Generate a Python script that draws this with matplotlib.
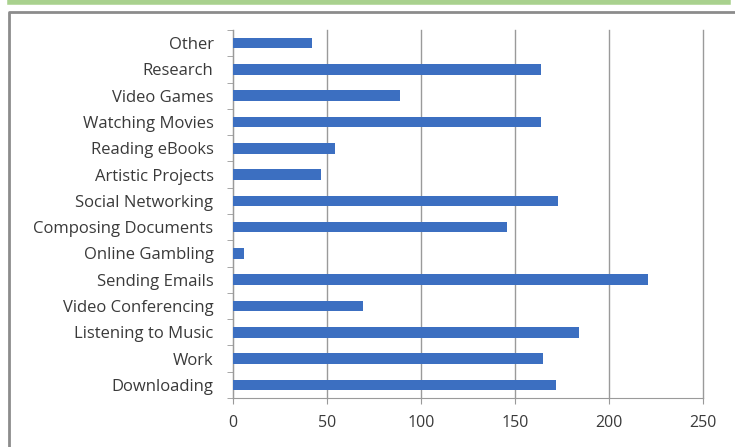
import matplotlib.pyplot as plt
from matplotlib.lines import Line2D
import numpy as np

categories = ["Downloading", "Work", "Listening to Music", "Video Conferencing",
              "Sending Emails", "Online Gambling", "Composing Documents",
              "Social Networking", "Artistic Projects", "Reading eBooks",
              "Watching Movies", "Video Games", "Research", "Other"]
values = [172, 165, 184, 69, 221, 6, 146, 173, 47, 54, 164, 89, 164, 42]
xticks = [0, 50, 100, 150, 200, 250]

plt.rcParams["font.family"] = ["Open Sans", "DejaVu Sans"]

fig = plt.figure(figsize=(7.35, 4.47), dpi=100)
fig.patch.set_facecolor("white")

# frame pieces around the chart (green strip on top, grey border)
fig.add_artist(Line2D([10 / 735, 728 / 735], [1 - 2 / 447, 1 - 2 / 447],
                      color="#a9d18e", lw=4, transform=fig.transFigure))
fig.add_artist(Line2D([9 / 735, 9 / 735, 1.0], [0, 1 - 12 / 447, 1 - 12 / 447],
                      color="#8c8c8c", lw=2, transform=fig.transFigure))

ax = fig.add_axes([233 / 735, 49 / 447, 470 / 735, 368 / 447])
y = np.arange(len(categories))
ax.barh(y, values, height=0.4, color="#3c6fc1", zorder=3)

ax.set_xlim(0, 250)
ax.set_ylim(-0.5, len(categories) - 0.5)
ax.set_xticks(xticks)
ax.set_xticklabels([str(t) for t in xticks], fontsize=11.5, color="#3a3a3a")
ax.set_yticks(y)
ax.set_yticklabels(categories, fontsize=12, color="#3a3a3a")
ax.set_yticks(np.arange(-0.5, len(categories), 1), minor=True)
ax.tick_params(axis="y", which="major", length=0, pad=14)
ax.tick_params(axis="y", which="minor", length=4, color="#999999", direction="out")
ax.tick_params(axis="x", length=4, color="#999999", pad=8)

ax.grid(axis="x", color="#9a9a9a", lw=1, zorder=0)
for gl in ax.get_xgridlines():
    gl.set_clip_on(False)
for side in ["top", "right"]:
    ax.spines[side].set_visible(False)
for side in ["left", "bottom"]:
    ax.spines[side].set_color("#9a9a9a")

fig.savefig("out.png", dpi=100)
